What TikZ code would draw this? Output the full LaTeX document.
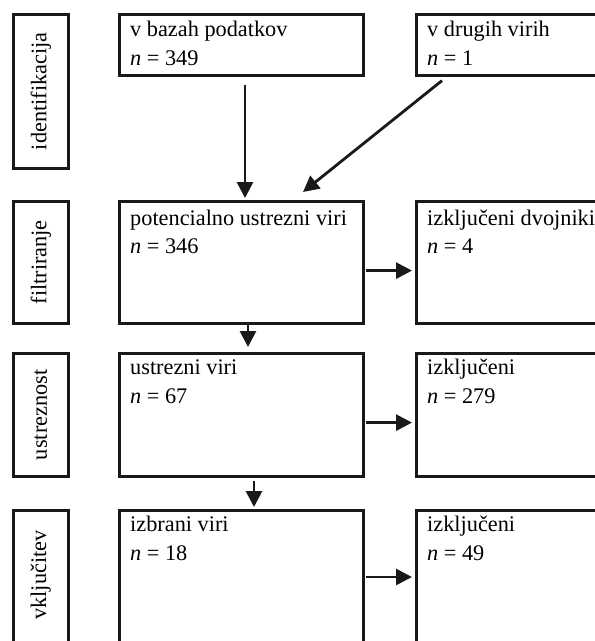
\documentclass[tikz,border=0pt]{standalone}
\usepackage{fontspec}
\setmainfont{Liberation Serif}
\usetikzlibrary{arrows.meta,calc}
\begin{document}
\begin{tikzpicture}[x=1pt,y=-1pt,
  box/.style={draw=black!90, line width=2.6pt, anchor=north west, inner sep=0pt},
  txt/.style={anchor=base west, inner sep=0pt, font=\fontsize{22.3}{26}\selectfont},
  vlab/.style={rotate=90, inner sep=0pt, font=\fontsize{22.3}{26}\selectfont},
  arr/.style={line width=2.8pt, draw=black!90, -{Triangle[length=16pt,width=16pt]}}]
\useasboundingbox (0,0) rectangle (595,641);
\clip (0,0) rectangle (595,641);
% stage label boxes
\node[box, minimum width=55pt, minimum height=154pt] (l1) at (12,13) {};
\node[box, minimum width=55pt, minimum height=122pt] (l2) at (12,200) {};
\node[box, minimum width=55pt, minimum height=123pt] (l3) at (12,352) {};
\node[box, minimum width=55pt, minimum height=160pt] (l4) at (12,509) {};
\node[vlab] (t1) at (l1.center) {identifikacija};
\node[vlab] (t2) at (l2.center) {filtriranje};
\node[vlab] (t3) at (l3.center) {ustreznost};
\node[vlab] (t4) at ($(l4.north)+(0,66)$) {vključitev};
% main boxes
\node[box, minimum width=244pt, minimum height=61pt] (b1) at (118,13) {};
\node[box, minimum width=244pt, minimum height=122pt] (b2) at (118,200) {};
\node[box, minimum width=244pt, minimum height=123pt] (b3) at (118,352) {};
\node[box, minimum width=244pt, minimum height=160pt] (b4) at (118,509) {};
% right boxes
\node[box, minimum width=200pt, minimum height=61pt] (r1) at (415,13) {};
\node[box, minimum width=200pt, minimum height=122pt] (r2) at (415,200) {};
\node[box, minimum width=200pt, minimum height=123pt] (r3) at (415,352) {};
\node[box, minimum width=200pt, minimum height=160pt] (r4) at (415,509) {};
% texts
\node[txt] (b1a) at ($(b1.north west)+(12,23)$) {v bazah podatkov};
\node[txt] (b1b) at ($(b1.north west)+(12,52)$) {\textit{n} = 349};
\node[txt] (r1a) at ($(r1.north west)+(12,23)$) {v drugih virih};
\node[txt] (r1b) at ($(r1.north west)+(12,52)$) {\textit{n} = 1};
\node[txt] (b2a) at ($(b2.north west)+(12,25)$) {potencialno ustrezni viri};
\node[txt] (b2b) at ($(b2.north west)+(12,53)$) {\textit{n} = 346};
\node[txt] (r2a) at ($(r2.north west)+(12,25)$) {izključeni dvojniki};
\node[txt] (r2b) at ($(r2.north west)+(12,53)$) {\textit{n} = 4};
\node[txt] (b3a) at ($(b3.north west)+(12,22)$) {ustrezni viri};
\node[txt] (b3b) at ($(b3.north west)+(12,51)$) {\textit{n} = 67};
\node[txt] (r3a) at ($(r3.north west)+(12,22)$) {izključeni};
\node[txt] (r3b) at ($(r3.north west)+(12,51)$) {\textit{n} = 279};
\node[txt] (b4a) at ($(b4.north west)+(12,22)$) {izbrani viri};
\node[txt] (b4b) at ($(b4.north west)+(12,51)$) {\textit{n} = 18};
\node[txt] (r4a) at ($(r4.north west)+(12,22)$) {izključeni};
\node[txt] (r4b) at ($(r4.north west)+(12,51)$) {\textit{n} = 49};
% arrows
\draw[arr] ($(b1.south west)+(127,8)$) -- ($(b2.north west)+(127,-2)$);
\draw[arr] ($(r1.south west)+(27,4)$) -- ($(b2.north west)+(185,-8)$);
\draw[arr] ($(b2.south west)+(130,0)$) -- ($(b3.north west)+(130,-5)$);
\draw[arr] ($(b3.south west)+(136,3)$) -- ($(b4.north west)+(136,-2)$);
\draw[arr] ($(b2.south east)+(1,-54)$) -- ($(r2.south west)+(-3,-54)$);
\draw[arr] ($(b3.south east)+(1,-55)$) -- ($(r3.south west)+(-3,-55)$);
\draw[arr] ($(b4.north east)+(1,68)$) -- ($(r4.north west)+(-3,68)$);
\end{tikzpicture}
\end{document}
